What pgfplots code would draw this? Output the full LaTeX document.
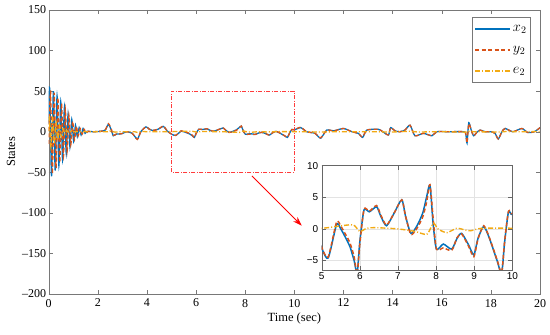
\documentclass[border=0pt]{standalone}
\usepackage{fontspec}
\setmainfont{Liberation Serif}
\newfontfamily\insetfont{Liberation Sans}
\usepackage{pgfplots}
\usepackage{pgfplotstable}
\pgfplotsset{compat=1.18}
\usetikzlibrary{calc,arrows.meta}
\definecolor{mblue}{RGB}{0,114,189}
\definecolor{morange}{RGB}{217,83,25}
\definecolor{myellow}{RGB}{242,170,20}
\definecolor{boxgray}{RGB}{120,120,120}
\definecolor{zred}{RGB}{255,60,60}

\pgfplotstableread{
t v
0.00 10
0.04 54
0.115 -55
0.19 50
0.265 -48
0.34 44
0.415 -42
0.49 37
0.565 -35
0.64 30
0.715 -27
0.79 22
0.865 -19
0.94 15
1.015 -12
1.09 8
1.165 -6
1.24 5
1.32 -4
1.40 4
1.48 -2
1.56 0.5
1.8 0
2.1 0.5
2.3 2
2.43 9
2.55 2
2.63 -5
2.75 -3
2.97 -2.5
3.18 0
3.4 -2
3.61 -9
3.75 0
3.96 6
4.1 3
4.23 1.5
4.45 3
4.67 6.5
4.82 1
5.0 -3.0
5.17 -4.6
5.39 0.7
5.5 0
5.61 -1.2
5.74 -2.8
5.85 -5
5.93 -7
6.0 -2
6.11 3.0
6.25 2.7
6.44 3.5
6.55 2
6.7 0.5
6.9 2.5
7.1 4.6
7.2 2
7.34 -0.7
7.5 0.5
7.65 2.5
7.75 5
7.84 6.9
7.92 1
8.01 -3.2
8.19 -2.4
8.41 -3.2
8.55 -1.5
8.67 -0.7
8.85 -2.5
8.99 -4.1
9.1 -1.5
9.25 0.4
9.4 -1.5
9.6 -5
9.72 -7
9.8 -2
9.9 2.7
10.0 2.3
10.26 5
10.5 0
10.84 -2
11.07 -8
11.32 2
11.6 1
12.0 4
12.34 0
12.6 -2
12.78 -7
12.95 2
13.42 3
13.6 0
13.83 -4
13.92 5
14.1 1
14.3 0
14.5 2
14.71 8
14.91 -5
15.25 -2
15.6 -5
15.8 0
16.3 0
16.9 0
16.98 -3
17.03 -14
17.1 11
17.2 2
17.3 -5
17.45 0
17.56 2
17.77 0
18.0 0
18.17 -2
18.3 -9
18.45 0
18.58 4
18.9 0
19.26 4
19.5 -1
19.77 0
20.0 5
}\xtwo

\pgfplotstableread{
t v
0.00 -15
0.075 50
0.15 -52
0.225 48
0.30 -45
0.375 42
0.45 -38
0.525 35
0.60 -31
0.675 28
0.75 -24
0.825 20
0.90 -16
0.975 13
1.05 -10
1.125 7
1.20 -5
1.28 4
1.36 -3
1.44 3
1.52 -2
1.60 0.5
1.8 0
2.1 0.5
2.3 2
2.43 10
2.55 3
2.63 -4.5
2.75 -3
2.97 -2.5
3.18 0
3.4 -2
3.61 -9.5
3.75 0
3.96 6
4.1 3
4.23 1.5
4.45 3
4.67 7
4.82 1
5.0 -2.9
5.17 -4.45
5.39 1.1
5.5 0.45
5.61 -0.7
5.74 -2.2
5.85 -4.4
5.93 -7.2
6.0 -2.4
6.11 3.1
6.25 2.8
6.44 3.7
6.55 2.2
6.7 0.6
6.9 2.5
7.1 4.6
7.2 2
7.34 -0.9
7.5 0.1
7.65 1.9
7.75 4.2
7.84 7.0
7.92 1.9
8.01 -3.2
8.19 -3.0
8.41 -3.4
8.55 -1.4
8.67 -0.8
8.85 -2.7
8.99 -4.4
9.1 -1.6
9.25 0.5
9.4 -1.4
9.6 -4.9
9.72 -6.9
9.8 -1.9
9.9 2.8
10.0 2.4
10.26 5.5
10.5 0
10.84 -2
11.07 -7.5
11.32 2
11.6 1
12.0 4
12.34 0
12.6 -2
12.78 -6.5
12.95 2
13.42 3
13.6 0
13.83 -4
13.92 5
14.1 1
14.3 0
14.5 2
14.71 8
14.91 -5
15.25 -2
15.6 -5
15.8 0
16.3 0
16.9 0
16.98 -3
17.03 -14
17.1 10
17.2 2
17.3 -5
17.45 0
17.56 2
17.77 0
18.0 0
18.17 -2
18.3 -9
18.45 0
18.58 4
18.9 0
19.26 4
19.5 -1
19.77 0
20.0 5
}\ytwo

\pgfplotstableread{
t v
0.00 0
0.03 18
0.09 -19
0.16 16
0.23 -15
0.30 12
0.37 -10
0.44 7
0.51 -6
0.58 4
0.65 -3
0.72 2
0.80 -1
0.90 0.5
1.0 0
2.4 0
2.5 0.8
2.7 -0.5
2.9 0
3.5 0
3.6 -0.8
3.8 0.3
4.0 0
5.0 0.1
5.48 0.47
5.83 0.63
6.0 -0.4
6.18 0.1
6.4 0.2
7.0 0
7.45 -0.4
7.76 -0.85
7.93 0.9
8.05 0
8.28 -0.6
8.54 0.1
8.75 -0.15
8.9 -0.3
9.2 0.1
10.0 0.1
11.0 -0.3
12.0 0
13.0 0
14.0 -0.3
14.7 0.5
15.0 -0.3
16.0 0
17.0 -0.5
17.1 0.5
17.3 0
18.3 -0.4
18.6 0.2
19.0 0
20.0 0.2
}\etwo

\begin{document}
\begin{tikzpicture}
\begin{axis}[
  name=main,
  scale only axis,
  width=491.3pt, height=284pt,
  xmin=0, xmax=20, ymin=-200, ymax=150,
  xtick={0,2,...,20},
  ytick={-200,-150,-100,-50,0,50,100,150},
  yticklabels={–200,–150,–100,–50,0,50,100,150},
  axis line style={boxgray},
  tick style={boxgray, thin},
  tick align=inside,
  ticklabel style={font=\fontsize{12}{13}\selectfont},
  yticklabel style={xshift=1pt},
  xticklabel style={yshift=-1.5pt},
  /pgf/number format/assume math mode=true,
  xlabel={Time (sec)},
  ylabel={States},
  label style={font=\fontsize{12.5}{14}\selectfont},
  xlabel style={yshift=1pt},
  legend cell align=left,
  legend style={at={(1,1)}, anchor=north east, xshift=-9.3pt, yshift=-7.3pt,
    draw=boxgray, fill=white, font=\fontsize{14}{16}\selectfont,
    row sep=9pt, inner xsep=2pt, inner ysep=6pt},
  legend image code/.code={\draw[#1] (0pt,0pt) -- (35pt,0pt);},
]
\addlegendimage{color=mblue, solid, line width=1.8pt}
\addlegendentry{$x_2$}
\addlegendimage{color=morange, line width=1.5pt, dash pattern=on 4pt off 2.5pt}
\addlegendentry{$y_2$}
\addlegendimage{color=myellow, line width=1.8pt, dash pattern=on 5pt off 2pt on 1pt off 2pt}
\addlegendentry{$e_2$}
\addplot[forget plot, mblue, line width=1.3pt, smooth, tension=0.4] table[x=t,y=v]{\xtwo};
\addplot[forget plot, morange, line width=1.3pt, dash pattern=on 4pt off 2.5pt, smooth, tension=0.4] table[x=t,y=v]{\ytwo};
\addplot[forget plot, myellow, line width=1.3pt, dash pattern=on 5pt off 2pt on 1pt off 2pt, smooth, tension=0.4] table[x=t,y=v]{\etwo};
\draw[zred, thin, dash pattern=on 4pt off 1.5pt on 1pt off 1.5pt] (axis cs:5,-50) rectangle (axis cs:10,50);
\draw[red, line width=0.9pt, -{Stealth[length=9pt,width=6pt]}] (axis cs:8.27,-54.5) -- (axis cs:10.3,-115.8);
\end{axis}

\begin{axis}[
  at={($(main.south west)+(273pt,24pt)$)}, anchor=south west,
  scale only axis,
  width=190.6pt, height=104.3pt,
  xmin=5, xmax=10, ymin=-6.5, ymax=10,
  xtick={5,6,...,10},
  ytick={-5,0,5,10},
  yticklabels={−5,0,5,10},
  grid=major,
  grid style={gray!22},
  axis line style={black!60},
  tick style={black!60, thin},
  tick align=inside,
  ticklabel style={font=\insetfont\fontsize{10}{11}\selectfont},
  /pgf/number format/assume math mode=true,
  axis background/.style={fill=white},
  xticklabel style={yshift=1pt},
]
\addplot[mblue, line width=1.5pt, smooth, tension=0.4] table[x=t,y=v]{\xtwo};
\addplot[morange, line width=1.5pt, dash pattern=on 4pt off 2.5pt, smooth, tension=0.4] table[x=t,y=v]{\ytwo};
\addplot[myellow, line width=1.4pt, dash pattern=on 5pt off 2pt on 1pt off 2pt, smooth, tension=0.4] table[x=t,y=v]{\etwo};
\end{axis}

\pgfresetboundingbox
\path ([shift={(-48.7pt,-40pt)}]main.south west) rectangle ([shift={(10pt,10pt)}]main.north east);
\end{tikzpicture}
\end{document}
